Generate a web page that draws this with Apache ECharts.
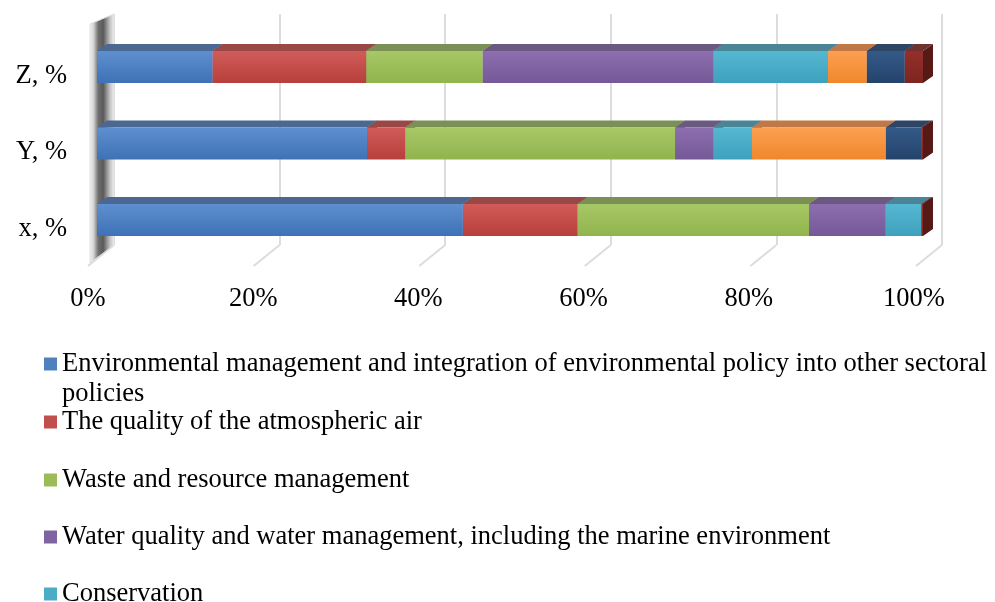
<!DOCTYPE html>
<html>
<head>
<meta charset="utf-8">
<script src="https://cdn.jsdelivr.net/npm/echarts@6/dist/echarts.min.js"></script>
<style>
html,body{margin:0;padding:0;background:#fff;}
#chart{width:995px;height:602px;}
</style>
</head>
<body>
<div id="chart"></div>
<script>
// ---- data ----
const categories = ['x, %', 'Y, %', 'Z, %'];
const seriesNames = [
  'Environmental management and integration of environmental policy into other sectoral policies',
  'The quality of the atmospheric air',
  'Waste and resource management',
  'Water quality and water management, including the marine environment',
  'Conservation',
  'Series 6',
  'Series 7',
  'Series 8'
];
const envManagement = [44.3, 32.7, 14.0];
const airQuality    = [13.9, 4.6, 18.6];
const wasteMgmt     = [28.0, 32.7, 14.1];
const waterQuality  = [9.3, 4.6, 27.9];
const conservation  = [4.3, 4.7, 13.9];
const series6       = [0, 16.2, 4.7];
const series7       = [0, 4.3, 4.6];
const series8       = [0.2, 0.2, 2.2];
const xTickValues = [0, 20, 40, 60, 80, 100];

const allValues = [envManagement, airQuality, wasteMgmt, waterQuality, conservation, series6, series7, series8];

// ---- styles ----
const palette = [
  {base:'#4F81BD', hi:'#5e90d0', lo:'#3e71b6', top:'#4b6892', side:'#2f4a70'},
  {base:'#C0504D', hi:'#d05c59', lo:'#b83f3b', top:'#9a4846', side:'#7a2e2b'},
  {base:'#9BBB59', hi:'#a8c767', lo:'#91b44d', top:'#7b9055', side:'#5f7638'},
  {base:'#8064A2', hi:'#8d6fb0', lo:'#745897', top:'#6a5980', side:'#4d3a66'},
  {base:'#4BACC6', hi:'#56b7d2', lo:'#3ea1bd', top:'#498597', side:'#2b6e80'},
  {base:'#F79646', hi:'#fca052', lo:'#f0872c', top:'#bf7846', side:'#a65a1e'},
  {base:'#2C4D75', hi:'#345a88', lo:'#24436b', top:'#2f4565', side:'#1a2e47'},
  {base:'#8B2C27', hi:'#952f2a', lo:'#7c2520', top:'#703230', side:'#571916'}
];
const DX = 10, DY = 7, BAR_RATIO = 32 / 76.5;
const FONT = '"Liberation Serif", "Times New Roman", serif';
const FS = 26.5;

function makeRender(idx) {
  const c = palette[idx];
  return function (params, api) {
    const s = api.value(0), e = api.value(1), cat = api.value(2);
    if (e - s <= 0) return null;
    const p0 = api.coord([s, cat]);
    const p1 = api.coord([e, cat]);
    const h = api.size([0, 1])[1] * BAR_RATIO;
    const top = p0[1] - h / 2, bot = p0[1] + h / 2;
    const x0 = p0[0], x1 = p1[0];
    return {
      type: 'group',
      children: [
        {type: 'polygon', shape: {points: [[x1, top], [x1 + DX, top - DY], [x1 + DX, bot - DY], [x1, bot]]},
         style: {fill: c.side}},
        {type: 'polygon', shape: {points: [[x0, top], [x1, top], [x1 + DX, top - DY], [x0 + DX, top - DY]]},
         style: {fill: c.top}},
        {type: 'rect', shape: {x: x0, y: top, width: x1 - x0, height: h},
         style: {fill: new echarts.graphic.LinearGradient(0, 0, 0, 1, [
           {offset: 0, color: c.hi}, {offset: 1, color: c.lo}])}}
      ]
    };
  };
}

const seriesList = allValues.map(function (vals, i) {
  const data = vals.map(function (v, k) {
    let start = 0;
    for (let j = 0; j < i; j++) start += allValues[j][k];
    return [start, start + v, k];
  });
  return {
    name: seriesNames[i],
    type: 'custom',
    xAxisIndex: 0, yAxisIndex: 0,
    renderItem: makeRender(i),
    itemStyle: {color: palette[i].base},
    encode: {x: [0, 1], y: 2},
    data: data,
    z: 3
  };
});

const legendText = {fontFamily: FONT, fontSize: FS, color: '#000', lineHeight: 30};
const legendCenters = [420, 478, 535, 592];
const legends = [
  {data: [seriesNames[0]], orient: 'vertical', left: 44, top: 319, padding: 0, itemWidth: 13, itemHeight: 13,
   icon: 'rect', selectedMode: false,
   formatter: function (n) { return '\n' + n; },
   textStyle: Object.assign({}, legendText, {width: 935, overflow: 'break'})}
];
for (let i = 1; i < 5; i++) {
  legends.push({data: [seriesNames[i]], orient: 'vertical', left: 44, top: legendCenters[i - 1] - 13, padding: 0,
    itemWidth: 13, itemHeight: 13, icon: 'rect', selectedMode: false, textStyle: legendText});
}

const chart = echarts.init(document.getElementById('chart'), null, {renderer: 'canvas'});
chart.setOption({
  animation: false,
  backgroundColor: '#fff',
  grid: [
    {left: 97, right: 72, top: 28.75, height: 229.5},
    {left: 114, right: 53, top: 14, height: 231},
    {left: 97, right: 72, top: 37.75, height: 229.5}
  ],
  xAxis: [
    {type: 'value', gridIndex: 0, min: 0, max: 100, interval: 20,
     axisLine: {show: false}, axisTick: {show: false}, splitLine: {show: false},
     axisLabel: {formatter: '{value}%', fontFamily: FONT, fontSize: FS, color: '#000',
                 margin: 27, padding: [0, 18, 0, 0]}},
    {type: 'value', gridIndex: 1, min: 0, max: 100, interval: 20,
     axisLine: {show: false}, axisTick: {show: false}, axisLabel: {show: false},
     splitLine: {show: true, lineStyle: {color: '#dcdcdc', width: 2}}},
    {type: 'value', gridIndex: 2, min: 0, max: 100, show: false}
  ],
  yAxis: [
    {type: 'category', gridIndex: 0, data: categories,
     axisLine: {show: false}, axisTick: {show: false}, axisLabel: {show: false}},
    {type: 'category', gridIndex: 1, data: categories, show: false},
    {type: 'category', gridIndex: 2, data: categories,
     axisLine: {show: false}, axisTick: {show: false}, splitLine: {show: false},
     axisLabel: {fontFamily: FONT, fontSize: FS, color: '#000', margin: 30}}
  ],
  legend: legends,
  series: seriesList
});

// decorations derived from axes: floor lines and side wall
function drawDecor() {
  const g = [];
  const yBackBottom = 14 + 231;
  const yBackTop = 14;
  xTickValues.forEach(function (v) {
    const xb = chart.convertToPixel({xAxisIndex: 1}, v);
    g.push({type: 'line', silent: true, z: 0,
      shape: {x1: xb, y1: yBackBottom, x2: xb - 26, y2: yBackBottom + 21},
      style: {stroke: '#dcdcdc', lineWidth: 2}});
  });
  const xWallBack = chart.convertToPixel({xAxisIndex: 1}, 0);
  const xWallFront = xWallBack - 24;
  g.push({type: 'polygon', silent: true, z: 1,
    shape: {points: [[xWallFront, yBackTop + 10], [xWallBack, yBackTop], [xWallBack, yBackBottom], [xWallFront, yBackBottom + 18]]},
    style: {fill: new echarts.graphic.LinearGradient(0, 0, 1, 0, [
      {offset: 0, color: '#f2f2f2'}, {offset: 0.15, color: '#d8d8d8'}, {offset: 0.35, color: '#707070'},
      {offset: 0.55, color: '#5a5a5a'}, {offset: 0.8, color: '#bdbdbd'}, {offset: 1, color: '#f4f4f4'}]),
      stroke: '#e0e0e0', lineWidth: 1}});
  chart.setOption({graphic: g});
}
drawDecor();
</script>
</body>
</html>
